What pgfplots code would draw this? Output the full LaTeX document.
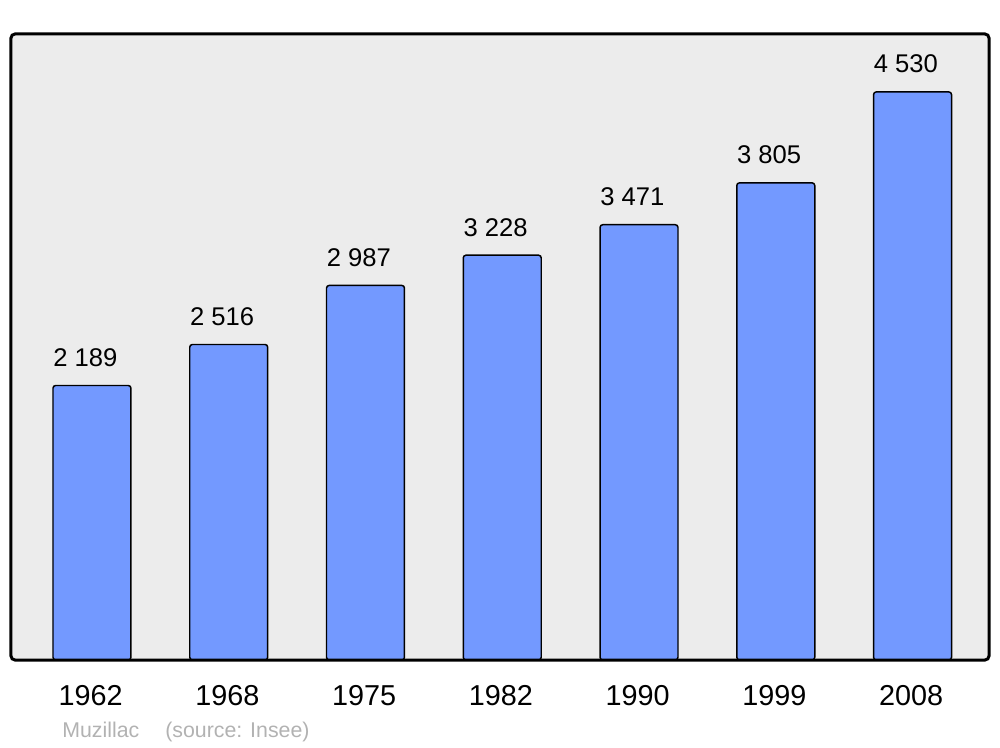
\documentclass[border=0pt]{standalone}
\usepackage{pgfplots}
\pgfplotsset{compat=1.18}
\usepackage{fontspec}
\setmainfont{Liberation Sans}
\definecolor{bgc}{RGB}{236,236,236}
\definecolor{barc}{RGB}{115,153,255}
\definecolor{footc}{RGB}{178,178,178}
\begin{document}
\begin{tikzpicture}[x=0.75pt,y=0.75pt]
\useasboundingbox (0,0) rectangle (1000,747);
\begin{axis}[
  at={(11*0.75pt,87*0.75pt)}, anchor=south west,
  scale only axis, width=978*0.75pt, height=626*0.75pt,
  xmin=-0.592, xmax=6.559, ymin=0, ymax=4992,
  axis line style={draw=none},
  axis background/.style={fill=bgc, rounded corners=3pt},
  ytick=\empty,
  xtick={0,...,6},
  xticklabels={1962,1968,1975,1982,1990,1999,2008},
  major tick length=0pt,
  xticklabel style={anchor=base, yshift=-33.75pt, xshift=-1pt, font=\fontsize{21.6}{25}\selectfont},
  ybar, bar width=0.57,
  nodes near coords,
  point meta=explicit symbolic,
  every node near coord/.append style={anchor=base, yshift=14.25pt, xshift=-5pt, font=\fontsize{19.2}{22}\selectfont, text=black, inner sep=0pt},
  clip=false,
]
\addplot[fill=barc, draw=black, line width=1.1pt, rounded corners=2pt] coordinates {
  (0,2189) [2 189]
  (1,2516) [2 516]
  (2,2987) [2 987]
  (3,3228) [3 228]
  (4,3471) [3 471]
  (5,3805) [3 805]
  (6,4530) [4 530]
};
\draw[line width=2.25pt, rounded corners=3pt] (rel axis cs:0,0) rectangle (rel axis cs:1,1);
\end{axis}
\node[anchor=base west, inner sep=0pt, text=footc, font=\fontsize{16}{19}\selectfont] at (62,10) {Muzillac};
\node[anchor=base west, inner sep=0pt, text=footc, font=\fontsize{16}{19}\selectfont] at (165,10) {(source: Insee)};
\end{tikzpicture}
\end{document}
